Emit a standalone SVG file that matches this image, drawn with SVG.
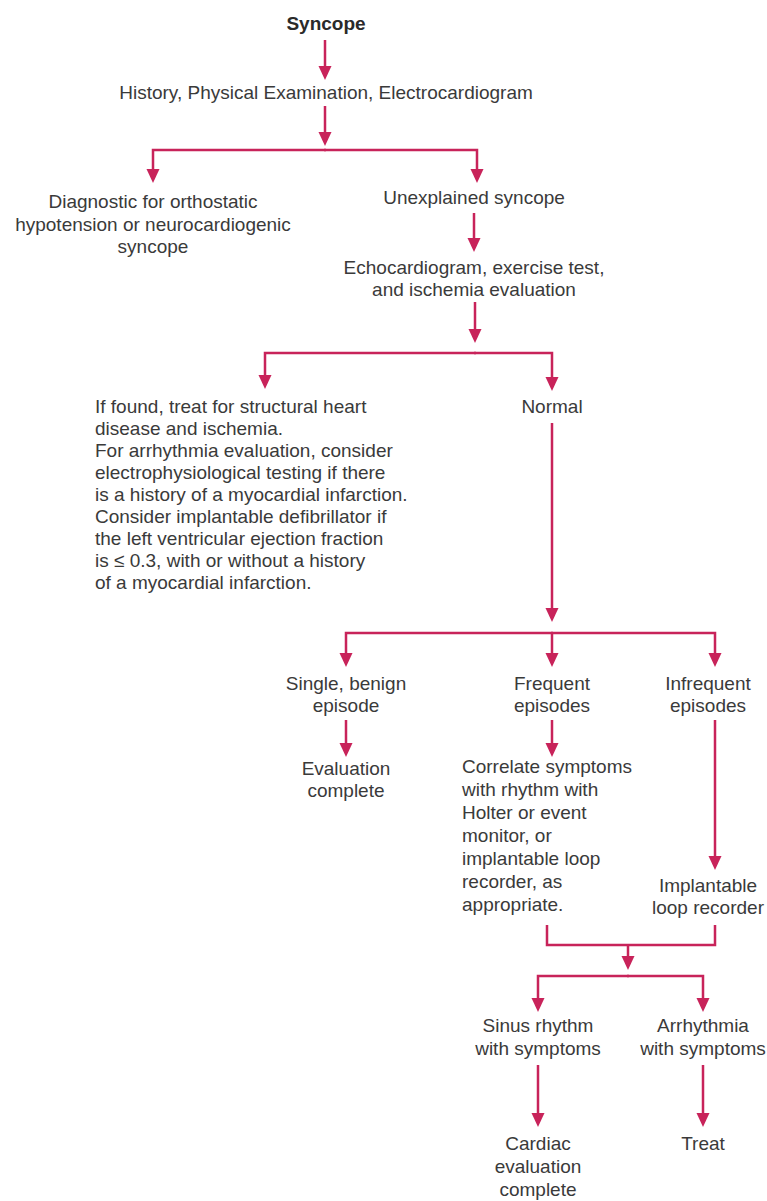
<svg xmlns="http://www.w3.org/2000/svg" width="767" height="1201" viewBox="0 0 767 1201">
  <style>
    .t { font-family: "Liberation Sans", Arial, Helvetica, sans-serif; font-size: 19px; fill: #3a3a3a; }
    .c { text-anchor: middle; }
    .b { font-weight: bold; fill: #2a2a2a; }
    .ln { fill: none; stroke: #c8235a; stroke-width: 2.5; }
    .ar { marker-end: url(#head); }
  </style>
  <defs>
    <marker id="head" markerUnits="userSpaceOnUse" markerWidth="15" markerHeight="14" refX="9" refY="6.5" orient="auto" viewBox="0 0 15 14">
      <path d="M0,0 L14,6.5 L0,13 z" fill="#c8235a"/>
    </marker>
  </defs>
  <rect width="767" height="1201" fill="#ffffff"/>

  <!-- connectors -->
  <g id="connectors">
    <path class="ln ar" d="M325,40 V75"/>
    <path class="ln ar" d="M325,106 V141"/>
    <path class="ln ar" d="M326,150 H153 V178"/>
    <path class="ln ar" d="M324,150 H477 V178"/>
    <path class="ln ar" d="M474,213 V247"/>
    <path class="ln ar" d="M475,302 V338"/>
    <path class="ln ar" d="M476,353 H265 V384"/>
    <path class="ln ar" d="M474,353 H552 V386"/>
    <path class="ln ar" d="M552,423 V617"/>
    <path class="ln ar" d="M553,633 H346 V662"/>
    <path class="ln ar" d="M552,633 V662"/>
    <path class="ln ar" d="M551,633 H715 V662"/>
    <path class="ln ar" d="M346,720 V752"/>
    <path class="ln ar" d="M552,720 V752"/>
    <path class="ln ar" d="M715,720 V865"/>
    <path class="ln" d="M547,925 V945 H715 V925"/>
    <path class="ln ar" d="M628,945 V965"/>
    <path class="ln ar" d="M629,976 H538 V1007"/>
    <path class="ln ar" d="M627,976 H703 V1007"/>
    <path class="ln ar" d="M538,1065 V1122"/>
    <path class="ln ar" d="M703,1065 V1122"/>
  </g>

  <!-- nodes -->
  <g id="syncope"><text class="t c b" x="326" y="30">Syncope</text></g>
  <g id="history"><text class="t c" x="326" y="99">History, Physical Examination, Electrocardiogram</text></g>
  <g id="diagnostic">
    <text class="t c" x="153" y="208">Diagnostic for orthostatic</text>
    <text class="t c" x="153" y="230.5">hypotension or neurocardiogenic</text>
    <text class="t c" x="153" y="253">syncope</text>
  </g>
  <g id="unexplained"><text class="t c" x="474" y="204">Unexplained syncope</text></g>
  <g id="echo">
    <text class="t c" x="474" y="274">Echocardiogram, exercise test,</text>
    <text class="t c" x="474" y="296">and ischemia evaluation</text>
  </g>
  <g id="structural">
    <text class="t" x="95" y="413">If found, treat for structural heart</text>
    <text class="t" x="95" y="435">disease and ischemia.</text>
    <text class="t" x="95" y="457">For arrhythmia evaluation, consider</text>
    <text class="t" x="95" y="479">electrophysiological testing if there</text>
    <text class="t" x="95" y="501">is a history of a myocardial infarction.</text>
    <text class="t" x="95" y="523">Consider implantable defibrillator if</text>
    <text class="t" x="95" y="545">the left ventricular ejection fraction</text>
    <text class="t" x="95" y="567">is ≤ 0.3, with or without a history</text>
    <text class="t" x="95" y="589">of a myocardial infarction.</text>
  </g>
  <g id="normal"><text class="t c" x="552" y="413">Normal</text></g>
  <g id="single">
    <text class="t c" x="346" y="690">Single, benign</text>
    <text class="t c" x="346" y="712">episode</text>
  </g>
  <g id="frequent">
    <text class="t c" x="552" y="690">Frequent</text>
    <text class="t c" x="552" y="712">episodes</text>
  </g>
  <g id="infrequent">
    <text class="t c" x="708" y="690">Infrequent</text>
    <text class="t c" x="708" y="712">episodes</text>
  </g>
  <g id="eval-complete">
    <text class="t c" x="346" y="775">Evaluation</text>
    <text class="t c" x="346" y="797">complete</text>
  </g>
  <g id="correlate">
    <text class="t" x="462" y="773">Correlate symptoms</text>
    <text class="t" x="462" y="796">with rhythm with</text>
    <text class="t" x="462" y="819">Holter or event</text>
    <text class="t" x="462" y="842">monitor, or</text>
    <text class="t" x="462" y="865">implantable loop</text>
    <text class="t" x="462" y="888">recorder, as</text>
    <text class="t" x="462" y="911">appropriate.</text>
  </g>
  <g id="loop-recorder">
    <text class="t c" x="708" y="892">Implantable</text>
    <text class="t c" x="708" y="914">loop recorder</text>
  </g>
  <g id="sinus">
    <text class="t c" x="538" y="1032">Sinus rhythm</text>
    <text class="t c" x="538" y="1055">with symptoms</text>
  </g>
  <g id="arrhythmia">
    <text class="t c" x="703" y="1032">Arrhythmia</text>
    <text class="t c" x="703" y="1055">with symptoms</text>
  </g>
  <g id="cardiac">
    <text class="t c" x="538" y="1150">Cardiac</text>
    <text class="t c" x="538" y="1173">evaluation</text>
    <text class="t c" x="538" y="1196">complete</text>
  </g>
  <g id="treat"><text class="t c" x="703" y="1150">Treat</text></g>
</svg>
